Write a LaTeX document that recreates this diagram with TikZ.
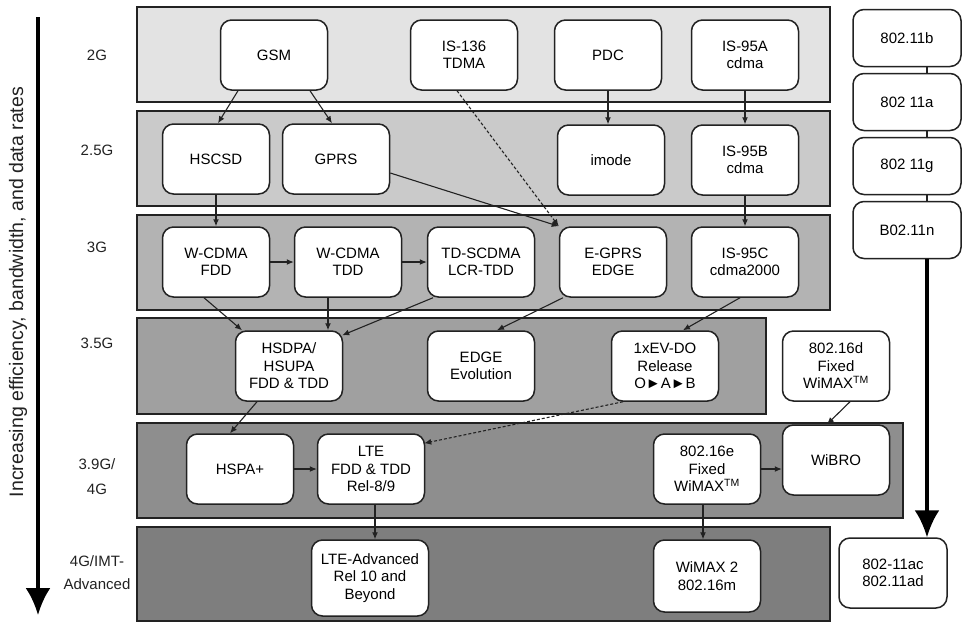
\documentclass[tikz,border=0pt]{standalone}
\usepackage{fontspec}
\setmainfont{Liberation Sans}
\usetikzlibrary{arrows.meta}
\definecolor{bandA}{HTML}{E3E3E3}
\definecolor{bandB}{HTML}{CACACA}
\definecolor{bandC}{HTML}{B3B3B3}
\definecolor{bandD}{HTML}{A0A0A0}
\definecolor{bandE}{HTML}{8E8E8E}
\definecolor{bandF}{HTML}{7E7E7E}
\definecolor{ink}{HTML}{222222}
\tikzset{
  band/.style={draw=ink, line width=1.5pt},
  box/.style={draw=ink, line width=1.5pt, rounded corners=11pt, fill=white,
    align=center, minimum width=107pt, minimum height=70pt, inner sep=1pt,
    font=\fontsize{15}{17.5}\selectfont},
  wbox/.style={box, minimum width=108pt, minimum height=57pt},
  genlabel/.style={align=center, font=\fontsize{15}{25}\selectfont, text=ink},
  conn/.style={draw=ink, line width=1.1pt, -{Latex[length=7pt,width=6pt]}},
  dconn/.style={conn, dash pattern=on 3pt off 2pt},
  plain/.style={draw=ink, line width=1.1pt},
  bigarrow/.style={draw=black, line width=3.5pt, -{Latex[length=27pt,width=25pt]}}
}
\begin{document}
\begin{tikzpicture}[x=1pt,y=-1pt]
\useasboundingbox (0,0) rectangle (962,622);
\fill[white] (0,0) rectangle (962,622);

% bands
\draw[band, fill=bandA] (137,7) rectangle (830,102);
\draw[band, fill=bandB] (137,111) rectangle (830,206);
\draw[band, fill=bandC] (137,215) rectangle (830,310);
\draw[band, fill=bandD] (137,318) rectangle (766,414);
\draw[band, fill=bandE] (137,423) rectangle (903,518);
\draw[band, fill=bandF] (137,527) rectangle (830,621);

% left axis
\coordinate (axtop) at (38,17);
\coordinate (axbot) at (38,615);
\draw[bigarrow] (axtop) -- (axbot);
\node[rotate=90, font=\fontsize{19.5}{22}\selectfont, text=ink] (axlabel) at (18,292)
  {Increasing efficiency, bandwidth, and data rates};

% generation labels
\node[genlabel] (g2) at (97,55) {2G};
\node[genlabel] (g25) at (97,150) {2.5G};
\node[genlabel] (g3) at (97,247) {3G};
\node[genlabel] (g35) at (97,343) {3.5G};
\node[genlabel] (g39) at (97,477) {3.9G/\\4G};
\node[genlabel, font=\fontsize{15}{23}\selectfont] (g4) at (97,573) {4G/IMT-\\Advanced};

% 2G
\node[box] (gsm) at (274,55) {GSM};
\node[box] (is136) at (464,55) {IS-136\\TDMA};
\node[box] (pdc) at (608,55) {PDC};
\node[box] (is95a) at (745,55) {IS-95A\\cdma};
% 2.5G
\node[box] (hscsd) at (216,159) {HSCSD};
\node[box] (gprs) at (336,159) {GPRS};
\node[box] (imode) at (611,160) {imode};
\node[box] (is95b) at (745,160) {IS-95B\\cdma};
% 3G
\node[box] (wfdd) at (216,262) {W-CDMA\\FDD};
\node[box] (wtdd) at (348,262) {W-CDMA\\TDD};
\node[box] (tds) at (481,262) {TD-SCDMA\\LCR-TDD};
\node[box] (egprs) at (613,262) {E-GPRS\\EDGE};
\node[box] (is95c) at (745,262) {IS-95C\\cdma2000};
% 3.5G
\node[box] (hsdpa) at (289,366) {HSDPA/\\HSUPA\\FDD \& TDD};
\node[box] (edgeev) at (481,366) {EDGE\\Evolution};
\node[box] (evdo) at (665,366) {1xEV-DO\\Release\\O►A►B};
\node[box] (w16d) at (836,366) {802.16d\\Fixed\\WiMAX\textsuperscript{TM}};
% 3.9G/4G
\node[box] (hspap) at (240,469) {HSPA+};
\node[box] (lte) at (371,469) {LTE\\FDD \& TDD\\Rel-8/9};
\node[box] (w16e) at (707,469) {802.16e\\Fixed\\WiMAX\textsuperscript{TM}};
\node[box] (wibro) at (836,460) {WiBRO};
% 4G/IMT-Advanced
\node[box, minimum width=117pt, minimum height=76pt] (ltea) at (370,578) {LTE-Advanced\\Rel 10 and\\Beyond};
\node[box, minimum height=72pt] (wimax2) at (707,576) {WiMAX 2\\802.16m};

% 802.11 column
\node[wbox] (w11b) at (907,38) {802.11b};
\node[wbox] (w11a) at (907,102) {802 11a};
\node[wbox] (w11g) at (907,166) {802 11g};
\node[wbox] (w11n) at (907,230) {B02.11n};
\node[box, minimum width=108pt] (wac) at (893,573) {802-11ac\\802.11ad};

% 802.11 chain
\draw[plain] ([xshift=20]w11b.south) -- ([xshift=20]w11a.north);
\draw[plain] ([xshift=20]w11a.south) -- ([xshift=20]w11g.north);
\draw[plain] ([xshift=20]w11g.south) -- ([xshift=20]w11n.north);
\draw[bigarrow] ([xshift=20]w11n.south) -- ([xshift=20]w11n.south |- wac.north);

% connectors 2G -> 2.5G
\draw[conn] ([xshift=-36]gsm.south) -- ([xshift=2]hscsd.north);
\draw[conn] ([xshift=36]gsm.south) -- ([xshift=-4]gprs.north);
\draw[conn] (pdc.south) -- (pdc.south |- imode.north);
\draw[conn] (is95a.south) -- (is95a.south |- is95b.north);
\draw[dconn] ([xshift=-7]is136.south) -- (egprs.north west);
\draw[conn] ([yshift=-14]gprs.east) -- (egprs.north west);
% 2.5G -> 3G
\draw[conn] (hscsd.south) -- (hscsd.south |- wfdd.north);
\draw[conn] (is95b.south) -- (is95b.south |- is95c.north);
% 3G horizontal
\draw[conn] (wfdd.east) -- (wtdd.west);
\draw[conn] (wtdd.east) -- (tds.west);
% 3G -> 3.5G
\draw[conn] ([xshift=-12]wfdd.south) -- ([xshift=-47]hsdpa.north);
\draw[conn] ([xshift=-20]wtdd.south) -- ([xshift=-20]wtdd.south |- hsdpa.north);
\draw[conn] ([xshift=-48]tds.south) -- ([xshift=-1,yshift=-5]hsdpa.north east);
\draw[conn] ([xshift=-50]egprs.south) -- ([xshift=16]edgeev.north);
\draw[conn] ([xshift=-5]is95c.south) -- ([xshift=18]evdo.north);
% 3.5G -> 3.9G
\draw[conn] ([xshift=-32]hsdpa.south) -- ([xshift=-10]hspap.north);
\draw[dconn] ([xshift=-42]evdo.south) -- ([xshift=-1,yshift=-10]lte.north east);
\draw[conn] ([xshift=14]w16d.south) -- ([xshift=-9]wibro.north);
% 3.9G horizontal
\draw[conn] (hspap.east) -- (lte.west);
\draw[conn] (w16e.east) -- (w16e.east -| wibro.west);
% 3.9G -> 4G
\draw[conn] ([xshift=4]lte.south) -- ([xshift=4]lte.south |- ltea.north);
\draw[conn] ([xshift=-4]w16e.south) -- ([xshift=-4]w16e.south |- wimax2.north);
\end{tikzpicture}
\end{document}
